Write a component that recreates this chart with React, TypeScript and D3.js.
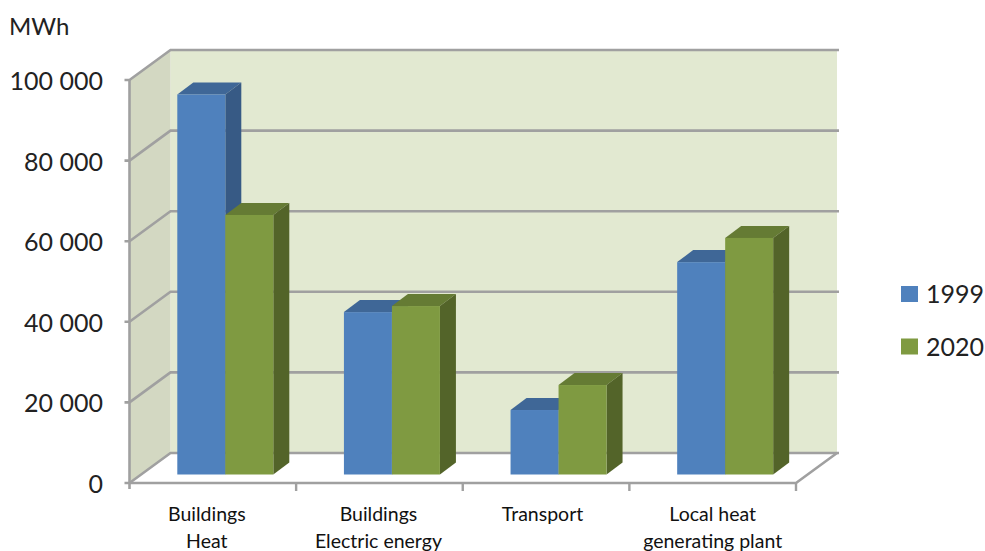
import React from "react";
import * as d3 from "d3";

const categories = ["Buildings|Heat", "Buildings|Electric energy", "Transport", "Local heat|generating plant"];
const seriesNames = ["1999", "2020"];
const values1999 = [94300, 40300, 16000, 52700];
const values2020 = [64400, 41800, 22200, 58700];
const yTicks = [0, 20000, 40000, 60000, 80000, 100000];
const tickLabels = ["0", "20 000", "40 000", "60 000", "80 000", "100 000"];

const frontColors = ["#4F81BD", "#7F9A41"];
const topColors = ["#3F6797", "#657B34"];
const sideColors = ["#375A85", "#536429"];

const W = 985;
const H = 551;
const GRID = "#A0A0A0";

const left = 129.5;
const right = 796;
const base = 483;
const top = 80;
const depth = { x: 41, y: -30 };
const barShift = { x: 12, y: -8.5 };
const barDepth = { x: 16, y: -12 };
const barWidth = 48;
// Hand-tuned nudges that keep the wrapped category labels clear of the bars
const labelNudge = [-6, -1, -3.5, 0];

const x = d3.scaleBand<string>().domain(categories).range([left, right]);
const y = d3.scaleLinear().domain([0, 100000]).range([base, top]);

const poly = (pts: [number, number][]) => pts.map((p) => p.join(",")).join(" ");

export default function App() {
  const series = [values1999, values2020];
  return (
    <svg
      width={W}
      height={H}
      viewBox={`0 0 ${W} ${H}`}
      style={{ position: "absolute", left: 0, top: 0, fontFamily: "Lato, sans-serif", background: "#fff" }}
    >
      {/* back wall and side wall */}
      <rect x={left + depth.x} y={top + depth.y} width={right - left} height={base - top} fill="#E2E9D1" />
      <polygon
        points={poly([
          [left, top],
          [left + depth.x, top + depth.y],
          [left + depth.x, base + depth.y],
          [left, base],
        ])}
        fill="#D3D8C2"
      />
      {/* floor */}
      <polygon
        points={poly([
          [left, base],
          [left + depth.x, base + depth.y],
          [right + depth.x, base + depth.y],
          [right, base],
        ])}
        fill="#fff"
      />

      {/* gridlines running along both walls */}
      {yTicks.map((t) => (
        <polyline
          key={t}
          points={poly([
            [left - 5, y(t)],
            [left, y(t)],
            [left + depth.x, y(t) + depth.y],
            [right + depth.x + 2, y(t) + depth.y],
          ])}
          fill="none"
          stroke={GRID}
          strokeWidth={2.6}
        />
      ))}
      <line x1={left} y1={top} x2={left} y2={base + 6} stroke={GRID} strokeWidth={2.6} />
      <polyline
        points={poly([
          [left, base],
          [right, base],
          [right + depth.x, base + depth.y],
        ])}
        fill="none"
        stroke={GRID}
        strokeWidth={2.6}
      />
      {categories.map((c) => (
        <line
          key={c}
          x1={(x(c) as number) + x.bandwidth()}
          y1={base}
          x2={(x(c) as number) + x.bandwidth()}
          y2={base + 8}
          stroke={GRID}
          strokeWidth={2.4}
        />
      ))}

      {/* 3D bars, each a front face with a top and side face */}
      {categories.map((c, i) =>
        series.map((vals, s) => {
          const bx = (x(c) as number) + barShift.x + 35.8 + s * barWidth;
          const by0 = y(0) + barShift.y;
          const by1 = y(vals[i]) + barShift.y;
          return (
            <g key={`${c}-${s}`}>
              <polygon
                points={poly([
                  [bx, by1],
                  [bx + barDepth.x, by1 + barDepth.y],
                  [bx + barWidth + barDepth.x, by1 + barDepth.y],
                  [bx + barWidth, by1],
                ])}
                fill={topColors[s]}
              />
              <polygon
                points={poly([
                  [bx + barWidth, by1],
                  [bx + barWidth + barDepth.x, by1 + barDepth.y],
                  [bx + barWidth + barDepth.x, by0 + barDepth.y],
                  [bx + barWidth, by0],
                ])}
                fill={sideColors[s]}
              />
              <rect x={bx} y={by1} width={barWidth} height={by0 - by1} fill={frontColors[s]} />
            </g>
          );
        })
      )}

      {/* value axis labels */}
      <text x={9} y={35} fontSize={24} fill="#222">
        MWh
      </text>
      {yTicks.map((t, i) => (
        <text key={t} x={103} y={y(t) + 10} textAnchor="end" fontSize={25} fill="#222">
          {tickLabels[i]}
        </text>
      ))}

      {/* category labels, split over two lines */}
      {categories.map((c, ci) => {
        const cx = (x(c) as number) + x.bandwidth() / 2 + labelNudge[ci];
        return c.split("|").map((line, j) => (
          <text key={line + j} x={cx} y={521 + j * 27} textAnchor="middle" fontSize={19.5} fill="#111">
            {line}
          </text>
        ));
      })}

      {/* legend */}
      {seriesNames.map((n, i) => (
        <g key={n}>
          <rect x={901} y={286 + i * 52.5} width={17} height={16} fill={frontColors[i]} />
          <text x={926} y={303 + i * 52.5} fontSize={25} fill="#222">
            {n}
          </text>
        </g>
      ))}
    </svg>
  );
}
